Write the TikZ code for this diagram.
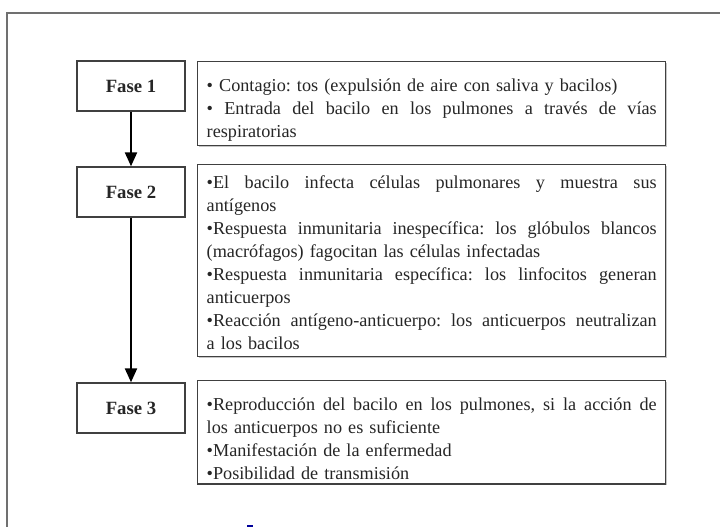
\documentclass[tikz,border=0pt]{standalone}
\usepackage{fontspec}
\setmainfont{Liberation Serif}
\usetikzlibrary{arrows.meta,shadows}
\definecolor{boxline}{HTML}{404040}
\definecolor{txt}{HTML}{262626}
\definecolor{outer}{HTML}{707070}
\newlength\tw
\setlength\tw{450pt}
\newcommand\jl[1]{\leavevmode{\spaceskip=0.25em plus 3em minus 0.08em\hbox to\tw{#1}}}
\frenchspacing
\tikzset{
  fasebox/.style={draw=boxline, line width=1.4pt, minimum width=108pt, minimum height=50pt,
    font=\fontsize{18.7}{23}\selectfont\bfseries, text=txt,
    drop shadow={shadow xshift=1pt, shadow yshift=-1pt, fill=gray!45, opacity=1}, fill=white},
  infobox/.style={draw=boxline, line width=1.4pt, anchor=north west, text width=\tw,
    inner xsep=9pt, inner ysep=4pt, align=left,
    font=\fontsize{18.2}{23}\selectfont\frenchspacing, text=txt,
    drop shadow={shadow xshift=1pt, shadow yshift=-1pt, fill=gray!45, opacity=1}, fill=white},
  arr/.style={line width=2.3pt, -{Triangle[length=14pt,width=12pt]}}
}
\begin{document}
\begin{tikzpicture}[x=1pt,y=-1pt]
\useasboundingbox (0,0) rectangle (720,527);
\fill[white] (0,0) rectangle (720,527);
\draw[outer, line width=1.1pt] (722,13) -- (7,13) -- (7,529);
\node[fasebox] (f1) at (131,86) {Fase 1};
\node[fasebox] (f2) at (131,192) {Fase 2};
\node[fasebox] (f3) at (131,408) {Fase 3};
\node[infobox, minimum height=79pt] (t1) at (197,61) {%
\rule{0pt}{26pt}• Contagio: tos (expulsión de aire con saliva y bacilos)\\
\jl{• Entrada del bacilo en los pulmones a través de vías}\\
respiratorias};
\node[infobox, minimum height=192pt] (t2) at (197,164) {%
\leavevmode\rule{0pt}{17pt}\jl{•El bacilo infecta células pulmonares y muestra sus}\\
antígenos\\
\jl{•Respuesta inmunitaria inespecífica: los glóbulos blancos}\\
(macrófagos) fagocitan las células infectadas\\
\jl{•Respuesta inmunitaria específica: los linfocitos generan}\\
anticuerpos\\
\jl{•Reacción antígeno-anticuerpo: los anticuerpos neutralizan}\\
a los bacilos};
\node[infobox, minimum height=99pt] (t3) at (197,380) {%
\leavevmode\rule{0pt}{26pt}\jl{•Reproducción del bacilo en los pulmones, si la acción de}\\
los anticuerpos no es suficiente\\
•Manifestación de la enfermedad\\
•Posibilidad de transmisión};
\draw[arr] (f1.south) -- (f2.north);
\draw[arr] (f2.south) -- (f3.north);
\fill[blue!60!black] (247,524.5) rectangle (253,527);
\end{tikzpicture}
\end{document}
